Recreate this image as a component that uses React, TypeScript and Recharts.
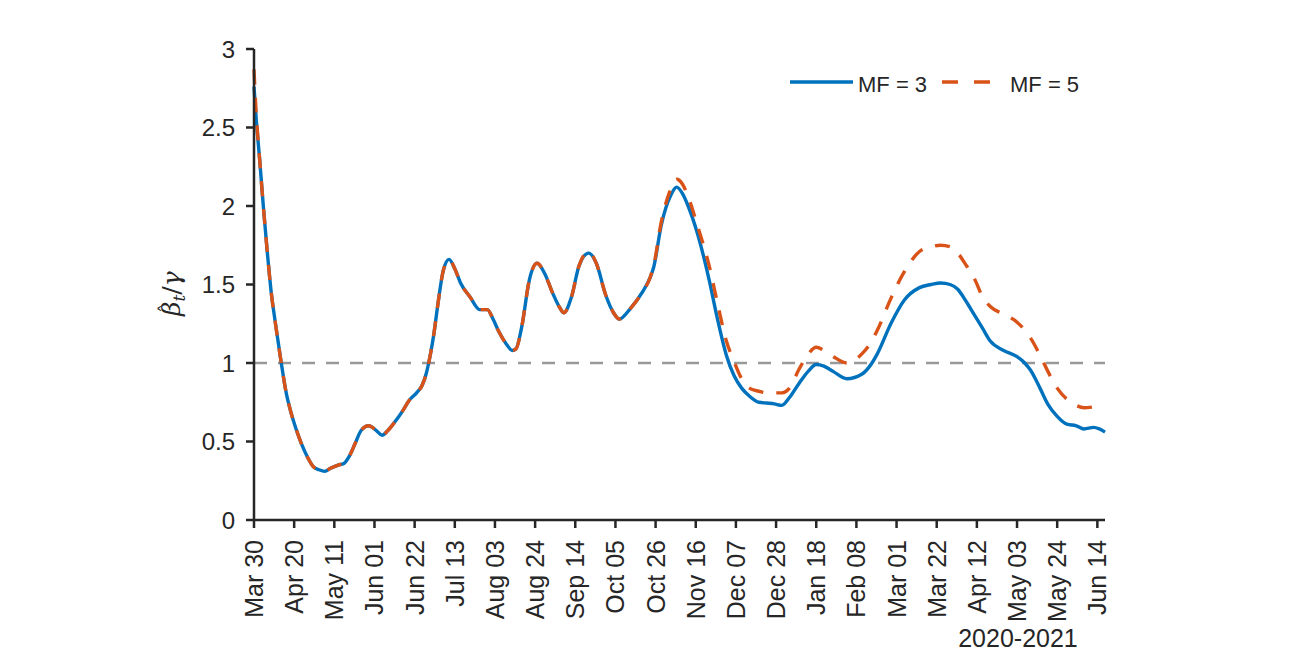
import React from "react";
import { LineChart, Line, XAxis, YAxis, ReferenceLine } from "recharts";

// days since Mar 30, 2020
const days = [
  0, 1, 3, 5, 7, 9, 11, 14, 17, 19, 22, 25, 28, 31, 34, 37, 40, 44, 47, 50,
  53, 56, 60, 64, 67, 70, 74, 78, 81, 85, 88, 90, 92, 94, 96, 99, 102, 105,
  108, 113, 118, 122, 125, 128, 132, 135, 137, 140, 144, 148, 152, 156, 160,
  162, 166, 170, 175, 179, 184, 188, 191, 197, 203, 207, 209, 213, 218, 221,
  224, 227, 232, 238, 242, 247, 251, 255, 259, 264, 268, 272, 276, 280, 285,
  290, 294, 298, 303, 310, 318, 322, 326, 333, 340, 348, 354, 359, 364, 368,
  372, 377, 381, 385, 392, 399, 403, 406, 411, 415, 420, 425, 430, 434, 439,
  442, 445,
];

const mf3 = [
  2.76, 2.58, 2.29, 1.98, 1.7, 1.45, 1.27, 1.02, 0.8, 0.7, 0.58, 0.48, 0.4,
  0.34, 0.32, 0.31, 0.33, 0.35, 0.36, 0.41, 0.49, 0.57, 0.6, 0.57, 0.54, 0.57,
  0.63, 0.7, 0.76, 0.81, 0.86, 0.93, 1.04, 1.18, 1.36, 1.59, 1.66, 1.6, 1.51,
  1.42, 1.34, 1.34, 1.28, 1.2, 1.12, 1.08, 1.09, 1.23, 1.53, 1.635, 1.57, 1.45,
  1.35, 1.32, 1.42, 1.62, 1.7, 1.635, 1.43, 1.32, 1.28, 1.35, 1.45, 1.54, 1.61,
  1.88, 2.07, 2.12, 2.08, 2.0, 1.82, 1.53, 1.3, 1.05, 0.92, 0.84, 0.79, 0.75,
  0.745, 0.74, 0.73, 0.78, 0.87, 0.95, 0.99, 0.98, 0.945, 0.9, 0.93, 0.98,
  1.06, 1.25, 1.4, 1.48, 1.5, 1.51, 1.5, 1.47, 1.4, 1.3, 1.22, 1.14, 1.08,
  1.04, 1.0, 0.955, 0.84, 0.74, 0.66, 0.61, 0.6, 0.58, 0.59, 0.58, 0.56,
];

const mf5 = [
  2.87, 2.62, 2.29, 1.98, 1.7, 1.45, 1.27, 1.02, 0.8, 0.7, 0.58, 0.48, 0.4,
  0.34, 0.32, 0.31, 0.33, 0.35, 0.36, 0.41, 0.49, 0.57, 0.6, 0.57, 0.54, 0.57,
  0.63, 0.7, 0.76, 0.81, 0.86, 0.93, 1.04, 1.18, 1.36, 1.59, 1.66, 1.6, 1.51,
  1.42, 1.34, 1.34, 1.28, 1.2, 1.12, 1.08, 1.09, 1.23, 1.53, 1.635, 1.57, 1.45,
  1.35, 1.32, 1.42, 1.62, 1.71, 1.635, 1.43, 1.32, 1.28, 1.35, 1.45, 1.54, 1.62,
  1.9, 2.11, 2.17, 2.14, 2.06, 1.87, 1.62, 1.4, 1.14, 1.01, 0.9, 0.84, 0.82,
  0.81, 0.81, 0.81, 0.84, 0.96, 1.06, 1.1, 1.08, 1.04, 1.0, 1.06, 1.12, 1.21,
  1.41, 1.58, 1.71, 1.74, 1.75, 1.74, 1.7, 1.63, 1.53, 1.42, 1.36, 1.31, 1.26,
  1.21, 1.16, 1.05, 0.95, 0.84, 0.77, 0.73, 0.715, 0.72, null, null,
];

const tickDays = [
  0, 21, 42, 63, 84, 105, 126, 147, 168, 189, 210, 231, 252, 273, 294, 315,
  336, 357, 378, 399, 420, 441,
];
const tickLabels = [
  "Mar 30", "Apr 20", "May 11", "Jun 01", "Jun 22", "Jul 13", "Aug 03",
  "Aug 24", "Sep 14", "Oct 05", "Oct 26", "Nov 16", "Dec 07", "Dec 28",
  "Jan 18", "Feb 08", "Mar 01", "Mar 22", "Apr 12", "May 03", "May 24",
  "Jun 14",
];
const yTicks = [0, 0.5, 1, 1.5, 2, 2.5, 3];

const data = days.map((d, i) => ({ day: d, mf3: mf3[i], mf5: mf5[i] }));

const FONT = "'Liberation Sans', Arial, sans-serif";
const INK = "#262626";
const BLUE = "#0072BD";
const ORANGE = "#D95319";

const XTick = (props: any) => {
  const { x, y, payload } = props;
  const label = tickLabels[tickDays.indexOf(payload.value)];
  return (
    <text
      transform={`translate(${x},${y}) rotate(-90)`}
      x={-12}
      y={0}
      dy="0.36em"
      textAnchor="end"
      fill={INK}
      fontSize={25}
      fontFamily={FONT}
    >
      {label}
    </text>
  );
};

const YLabel = () => (
  <g transform="translate(172,284) rotate(-90)" fill={INK}>
    <text x={-24} y={0} fontSize={25} fontFamily="'DejaVu Serif', serif" fontStyle="italic">
      <tspan>β</tspan>
      <tspan fontSize={17} dy={5}>t</tspan>
      <tspan dy={-5} fontStyle="normal">/</tspan>
      <tspan>γ</tspan>
    </text>
    <text x={-21} y={-7} fontSize={18} fontFamily="'DejaVu Serif', serif">
      ˆ
    </text>
  </g>
);

const LegendBox = () => (
  <svg width={330} height={44} style={{ position: "absolute", left: 762, top: 54 }}>
    <line x1={20} y1={20} x2={83} y2={20} stroke={BLUE} strokeWidth={3.3} />
    <text x={88} y={30} fontSize={22} fill={INK} fontFamily={FONT}>
      MF = 3
    </text>
    <line
      x1={172}
      y1={20}
      x2={220}
      y2={20}
      stroke={ORANGE}
      strokeWidth={3.3}
      strokeDasharray="16 16"
    />
    <text x={240} y={30} fontSize={22} fill={INK} fontFamily={FONT}>
      MF = 5
    </text>
  </svg>
);

export default function App() {
  return (
    <div
      style={{
        fontFamily: FONT,
        position: "relative",
        width: 1297,
        height: 648,
        marginBottom: -8,
      }}
    >
      <LineChart
        width={1297}
        height={648}
        data={data}
        margin={{ top: 41, right: 200, left: 0, bottom: 0 }}
      >
        <XAxis
          dataKey="day"
          type="number"
          domain={[0, 445]}
          ticks={tickDays}
          interval={0}
          height={136}
          tick={<XTick />}
          tickSize={8}
          tickMargin={0}
          stroke={INK}
          strokeWidth={2.5}
          tickLine={{ stroke: INK, strokeWidth: 2.5 }}
          label={{
            content: () => (
              <text
                x={1010}
                y={639}
                textAnchor="middle"
                fontSize={25}
                fill={INK}
                fontFamily={FONT}
              >
                2020-2021
              </text>
            ),
          }}
        />
        <YAxis
          type="number"
          domain={[0, 3]}
          ticks={yTicks}
          width={246}
          tickSize={8}
          tickMargin={11}
          stroke={INK}
          strokeWidth={2.5}
          tickLine={{ stroke: INK, strokeWidth: 2.5 }}
          tick={{ fill: INK, fontSize: 24, fontFamily: FONT }}
          label={{ content: () => <YLabel /> }}
        />
        <ReferenceLine
          y={1}
          stroke="#999999"
          strokeWidth={2.5}
          strokeDasharray="13 11"
        />
        <Line
          dataKey="mf3"
          name="MF = 3"
          type="monotone"
          stroke={BLUE}
          strokeWidth={3.4}
          dot={false}
          isAnimationActive={false}
        />
        <Line
          dataKey="mf5"
          name="MF = 5"
          type="monotone"
          stroke={ORANGE}
          strokeWidth={3.4}
          strokeDasharray="15 13"
          dot={false}
          isAnimationActive={false}
        />
      </LineChart>
      <LegendBox />
    </div>
  );
}
